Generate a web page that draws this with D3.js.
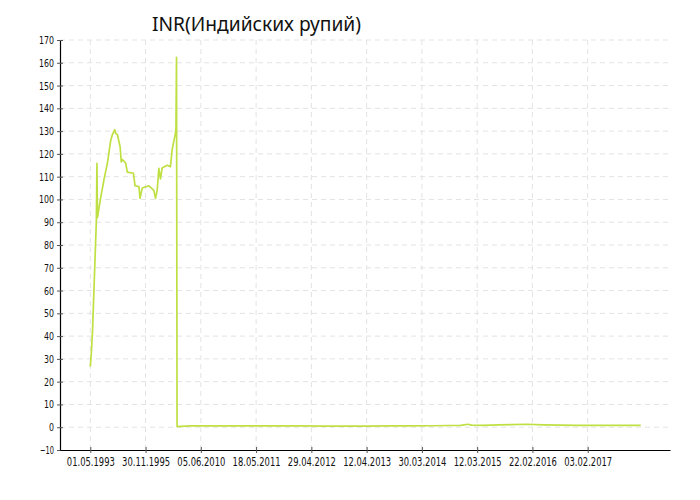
<!DOCTYPE html>
<html><head><meta charset="utf-8">
<script src="https://cdn.jsdelivr.net/npm/d3@7/dist/d3.min.js"></script>
<style>
body{margin:0;background:#fff;}
svg{display:block;}
</style></head>
<body>
<svg id="chart" width="700" height="500"></svg>
<script>
const title = "INR(Индийских рупий)";
// x positions are observation numbers (ticks every 100 observations)
const tickLabels = ["01.05.1993","30.11.1995","05.06.2010","18.05.2011","29.04.2012","12.04.2013","30.03.2014","12.03.2015","22.02.2016","03.02.2017"];
const tickPositions = [0,100,200,300,400,500,600,700,800,900];
const obs = [0,2,3,4,11,12,13,19,25,31,37,40,44,46,49,54,56,58,64,67,78,81,88,90,94,106,115,118,121,124,127,130,139,145,148,154,155,156,157,
  180,220,260,300,340,380,420,460,500,540,580,620,650,670,683,690,710,740,760,790,820,850,880,910,940,970,996];
const values = [26.6,33,37.5,42,91,115.8,92,101,109,116,126,128.5,130.6,129,128.5,123,116.5,117.5,116,112,111.5,106,105.6,100.5,105,106,104,100.5,104,113.6,109,113.8,115,114.4,121.7,129,131.8,162.4,0.3,
  0.55,0.6,0.6,0.58,0.56,0.55,0.5,0.5,0.48,0.55,0.62,0.65,0.75,0.85,1.3,0.9,0.85,1.0,1.1,1.3,1.05,0.9,0.85,0.85,0.85,0.85,0.85];
const yTicks = d3.range(-10, 171, 10);

const svg = d3.select("#chart");
const base = d3.scaleLinear().domain([0, 900]).range([90.3, 587.7]);
const x = d3.scaleLinear().domain([base.invert(60), base.invert(670)]).range([60, 670]);
const y = d3.scaleLinear().domain([-10, 170]).range([450, 40]);

// grid
svg.append("g").selectAll("line").data(yTicks.filter(d => d > -10)).join("line")
  .attr("x1", 60).attr("x2", 670).attr("y1", d => y(d)).attr("y2", d => y(d))
  .attr("stroke", "#e3e3e3").attr("stroke-dasharray", "5,4");
svg.append("g").selectAll("line").data(tickPositions).join("line")
  .attr("x1", d => x(d)).attr("x2", d => x(d)).attr("y1", 40).attr("y2", 450)
  .attr("stroke", "#e3e3e3").attr("stroke-dasharray", "5,4");

// line
const pts = obs.map((o, i) => [o, values[i]]);
svg.append("path").datum(pts)
  .attr("fill", "none").attr("stroke", "#bfe043").attr("stroke-width", 1.7)
  .attr("stroke-linejoin", "round")
  .attr("d", d3.line().x(d => x(d[0])).y(d => y(d[1])));

// axes
const fontFam = "'DejaVu Sans Condensed','DejaVu Sans',sans-serif";
const yAxis = svg.append("g").attr("transform", "translate(60,0)")
  .call(d3.axisLeft(y).tickValues(yTicks).tickSizeInner(3).tickSizeOuter(0).tickPadding(3));
yAxis.select(".domain").attr("stroke", "#000").attr("stroke-width", 1.2);
yAxis.selectAll(".tick line").attr("stroke", "#555").attr("x2", 3).attr("x1", -3);
yAxis.selectAll("text").attr("font-family", fontFam).attr("font-size", 11).attr("fill", "#111")
  .attr("textLength", d => String(d).replace("-", "").length * 5 + (d < 0 ? 4 : 0))
  .attr("lengthAdjust", "spacingAndGlyphs");

const xAxis = svg.append("g").attr("transform", "translate(0,450)")
  .call(d3.axisBottom(x).tickValues(tickPositions).tickFormat((d, i) => tickLabels[i]).tickSizeInner(3).tickSizeOuter(0).tickPadding(5));
xAxis.select(".domain").attr("stroke", "#000").attr("stroke-width", 1.2);
xAxis.selectAll(".tick line").attr("stroke", "#555").attr("y1", -3).attr("y2", 3);
xAxis.selectAll("text").attr("font-family", fontFam).attr("font-size", 11.5).attr("fill", "#111")
  .attr("textLength", 48).attr("lengthAdjust", "spacingAndGlyphs");

svg.append("text").attr("x", 152).attr("y", 31).text(title)
  .attr("font-family", "'Noto Sans','Open Sans',sans-serif").attr("font-size", 19.2).attr("fill", "#111");
</script>
</body></html>
